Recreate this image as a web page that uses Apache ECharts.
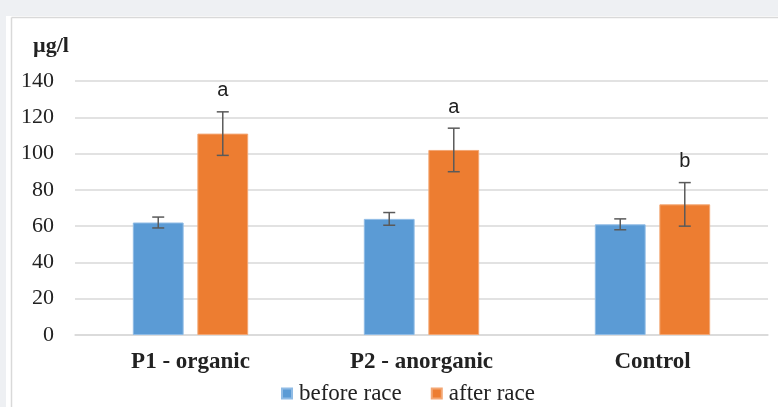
<!DOCTYPE html>
<html>
<head>
<meta charset="utf-8">
<script src="https://cdn.jsdelivr.net/npm/echarts@6/dist/echarts.min.js"></script>
<style>
  html, body { margin: 0; padding: 0; background: #fff; }
  #chart { width: 778px; height: 407px; }
</style>
</head>
<body>
<div id="chart"></div>
<script>
// categories and values
var categories = ['P1 - organic', 'P2 - anorganic', 'Control'];
var beforeRace = [62, 64, 61];
var afterRace = [111, 102, 72];
var beforeErr = [3, 3.5, 3];
var afterErr = [12, 12, 12];
var letters = ['a', 'a', 'b'];

var BAR_W = 0.22;   // share of the category band
var BAR_GAP = 0.27; // share of bar width
var SERIF = '"Liberation Serif", "Times New Roman", serif';

var chart = echarts.init(document.getElementById('chart'));

// error bars (and the letters over the orange ones)
function errorBars(values, errs, side, withLetters) {
  return {
    type: 'custom',
    z: 5,
    silent: true,
    data: values.map(function (v, i) { return [i, v, errs[i]]; }),
    renderItem: function (params, api) {
      var i = api.value(0), v = api.value(1), e = api.value(2);
      var band = api.size([1, 0])[0];
      var off = side * band * BAR_W * (1 + BAR_GAP) / 2;
      var top = api.coord([i, v + e]);
      var bot = api.coord([i, v - e]);
      var x = top[0] + off;
      var cap = 6;
      var st = { stroke: '#5a5a5a', lineWidth: 1.5 };
      var kids = [
        { type: 'line', shape: { x1: x, y1: top[1], x2: x, y2: bot[1] }, style: st },
        { type: 'line', shape: { x1: x - cap, y1: top[1], x2: x + cap, y2: top[1] }, style: st },
        { type: 'line', shape: { x1: x - cap, y1: bot[1], x2: x + cap, y2: bot[1] }, style: st }
      ];
      if (withLetters) {
        kids.push({
          type: 'text',
          style: {
            x: x, y: top[1] - 21, text: letters[i],
            fill: '#222', font: '20px "Liberation Sans", Arial, sans-serif',
            align: 'center', verticalAlign: 'middle'
          }
        });
      }
      return { type: 'group', children: kids };
    }
  };
}

var option = {
  animation: false,
  backgroundColor: '#fff',
  color: ['#5b9bd5', '#ed7d31'],
  graphic: [
    { type: 'rect', shape: { x: 0, y: 0, width: 778, height: 16 }, style: { fill: '#eef0f3' } },
    { type: 'rect', shape: { x: 0, y: 0, width: 6, height: 407 }, style: { fill: '#eef0f3' } },
    { type: 'line', shape: { x1: 11.5, y1: 17.5, x2: 778, y2: 17.5 }, style: { stroke: '#d9d9d9', lineWidth: 1.5 } },
    { type: 'line', shape: { x1: 11.5, y1: 17.5, x2: 11.5, y2: 407 }, style: { stroke: '#d9d9d9', lineWidth: 1.5 } }
  ],
  title: {
    text: 'µg/l',
    left: 28,
    top: 30,
    textStyle: { fontFamily: SERIF, fontSize: 22, fontWeight: 'bold', color: '#222' }
  },
  legend: {
    data: ['before race', 'after race'],
    left: 281,
    top: 382,
    padding: 0,
    itemWidth: 10,
    itemHeight: 10,
    itemGap: 29,
    icon: 'rect',
    selectedMode: false,
    textStyle: { fontFamily: SERIF, fontSize: 23, color: '#222', padding: [0, 0, 0, 2] }
  },
  grid: { left: 75, right: 10, top: 81, bottom: 72 },
  xAxis: {
    type: 'category',
    data: categories,
    axisLine: { lineStyle: { color: '#d9d9d9', width: 1.5 } },
    axisTick: { show: false },
    axisLabel: {
      margin: 16,
      fontFamily: SERIF,
      fontSize: 23,
      fontWeight: 'bold',
      color: '#222'
    }
  },
  yAxis: {
    type: 'value',
    min: 0,
    max: 140,
    interval: 20,
    axisLine: { show: false },
    axisTick: { show: false },
    splitLine: { lineStyle: { color: '#d9d9d9', width: 1.5 } },
    axisLabel: {
      margin: 21,
      fontFamily: SERIF,
      fontSize: 22,
      color: '#222'
    }
  },
  series: [
    {
      name: 'before race', type: 'bar', data: beforeRace,
      barWidth: BAR_W * 100 + '%', barGap: BAR_GAP * 100 + '%',
      itemStyle: { borderColor: '#8fbbe5', borderWidth: 1 }
    },
    {
      name: 'after race', type: 'bar', data: afterRace,
      barWidth: BAR_W * 100 + '%', barGap: BAR_GAP * 100 + '%',
      itemStyle: { borderColor: '#f3a673', borderWidth: 1 }
    },
    errorBars(beforeRace, beforeErr, -1, false),
    errorBars(afterRace, afterErr, 1, true)
  ]
};

chart.setOption(option);
</script>
</body>
</html>
